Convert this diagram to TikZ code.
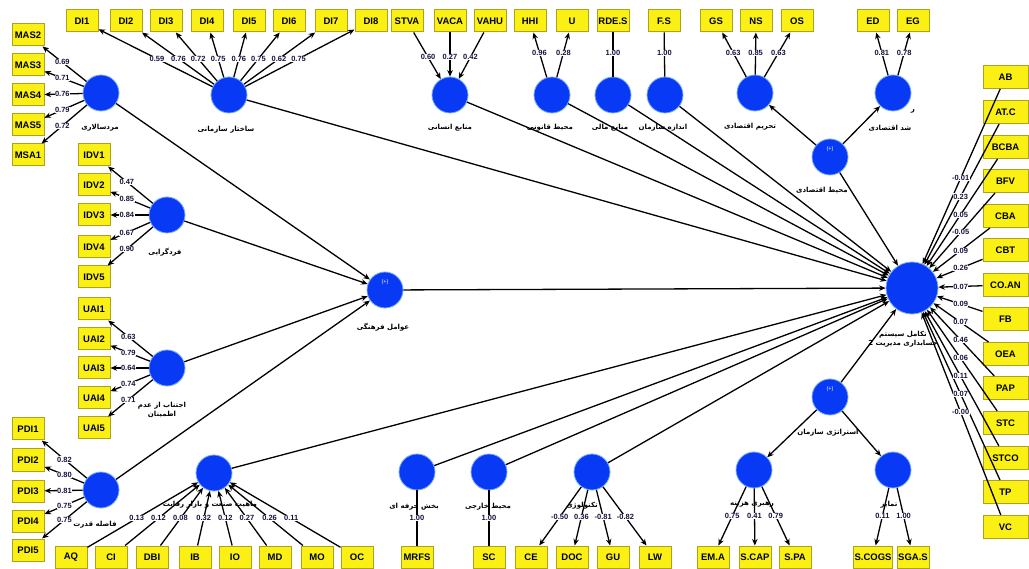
\documentclass[tikz,border=0pt]{standalone}
\usepackage{fontspec}
\setmainfont{Liberation Sans}
\newfontfamily\fafont[Script=Arabic]{DejaVu Sans}
\TeXXeTstate=1
\usetikzlibrary{arrows.meta,calc}
\definecolor{lvblue}{RGB}{8,58,245}
\definecolor{lvedge}{RGB}{120,170,255}
\definecolor{indfill}{RGB}{250,240,20}
\definecolor{indedge}{RGB}{175,160,30}
\definecolor{numcol}{RGB}{20,20,60}
% right-to-left Persian text
\newcommand\fatxt[1]{{\fafont\bfseries\beginR #1\endR}}
% loading / weight label placed on the line between two nodes
\newcommand\wgt[4]{\path (#1.center) -- (#2.center) node[lab,pos=#3] {#4};}
\tikzset{
  ind/.style={draw=indedge, fill=indfill, line width=1pt, minimum width=32pt,
    minimum height=22pt, inner sep=1pt, font=\bfseries\fontsize{9.5}{10}\selectfont},
  indw/.style={ind, minimum width=45pt, minimum height=23pt},
  lv/.style={circle, fill=lvblue, draw=lvedge, line width=0.8pt, minimum size=36pt, inner sep=0pt},
  lvbig/.style={lv, minimum size=52pt},
  arr/.style={-{Stealth[length=6.5pt,width=5.5pt]}, line width=1.3pt},
  ln/.style={line width=1.3pt},
  lab/.style={fill=white, inner sep=0.4pt, text=numcol, font=\bfseries\fontsize{7.5}{7.5}\selectfont},
  fa/.style={inner sep=0pt, align=center, font=\fontsize{7}{9.5}\selectfont},
  plus/.style={text=white, inner sep=0pt, font=\fontsize{5.5}{5.5}\selectfont}
}
\begin{document}
\begin{tikzpicture}[x=1pt,y=-1pt]
\useasboundingbox[fill=white] (0,0) rectangle (1029,569);

% ---------- latent variables ----------
\node[lv] (cmas)   at (101,93)  {};
\node[lv] (css)    at (229,95)  {};
\node[lv] (chr)    at (450,95)  {};
\node[lv] (clegal) at (552,95)  {};
\node[lv] (cfin)   at (613,95)  {};
\node[lv] (csize)  at (665,95)  {};
\node[lv] (csanc)  at (755,93)  {};
\node[lv] (cgrow)  at (893,93)  {};
\node[lv] (cecon)  at (830,157) {};
\node[lv] (cind)   at (167,215) {};
\node[lv] (ccult)  at (385,290) {};
\node[lv] (cua)    at (167,368) {};
\node[lv] (cpd)    at (101,490) {};
\node[lv] (cnat)   at (214,473) {};
\node[lv] (cprof)  at (417,472) {};
\node[lv] (cext)   at (489,472) {};
\node[lv] (ctech)  at (592,472) {};
\node[lv] (cstrat) at (830,397) {};
\node[lv] (ccost)  at (754,470) {};
\node[lv] (cdiff)  at (893,470) {};
\node[lvbig] (big) at (912,288) {};

\node[plus] (pcult)  at ($(ccult.center)+(0,-8)$)  {(+)};
\node[plus] (pecon)  at ($(cecon.center)+(0,-8)$)  {(+)};
\node[plus] (pstrat) at ($(cstrat.center)+(0,-8)$) {(+)};

% ---------- indicators ----------
\foreach \n/\x in {DI1/82,DI2/126,DI3/166,DI4/207,DI5/249,DI6/289,DI7/331,DI8/371,
  STVA/407,VACA/450,VAHU/490,HHI/530,U/572,GS/716,NS/756,OS/797,ED/873,EG/913}
  {\node[ind] (\n) at (\x,21) {\n};}
\node[ind] (RDES) at (613,21) {RDE.S};
\node[ind] (FS)   at (664,21) {F.S};

\foreach \n/\y in {MAS2/35,MAS3/65,MAS4/95,MAS5/125,MSA1/155,PDI1/429,PDI2/460,PDI3/491,PDI4/521,PDI5/550}
  {\node[ind] (\n) at (28,\y) {\n};}
\foreach \n/\y in {IDV1/155,IDV2/185,IDV3/215,IDV4/247,IDV5/277,UAI1/309,UAI2/339,UAI3/368,UAI4/398,UAI5/428}
  {\node[ind] (\n) at (94,\y) {\n};}

\foreach \n/\x in {AQ/71,CI/111,DBI/152,IB/195,IO/235,MD/275,MO/317,OC/357,MRFS/417,
  SC/489,CE/531,DOC/572,GU/613,LW/655}
  {\node[ind] (\n) at (\x,557) {\n};}
\node[ind] (EMA)   at (713,557) {EM.A};
\node[ind] (SCAP)  at (755,557) {S.CAP};
\node[ind] (SPA)   at (795,557) {S.PA};
\node[ind] (SCOGS) at (873,557) {S.COGS};
\node[ind] (SGAS)  at (913,557) {SGA.S};

\foreach \n/\t/\y in {AB/AB/77,ATC/AT.C/112,BCBA/BCBA/147,BFV/BFV/181,CBA/CBA/216,CBT/CBT/250,
  COAN/CO.AN/285,FB/FB/319,OEA/OEA/354,PAP/PAP/388,STC/STC/423,STCO/STCO/458,TP/TP/492,VC/VC/527}
  {\node[indw] (\n) at (1005.5,\y) {\t};}

% ---------- structural paths ----------
\foreach \c in {cmas,cind,cua,cpd} {\draw[arr] (\c) -- (ccult);}
\foreach \c in {css,chr,clegal,cfin,csize,cecon,ccult,cnat,cprof,cext,ctech,cstrat}
  {\draw[arr] (\c) -- (big);}
\draw[arr] (cecon) -- (csanc);
\draw[arr] (cecon) -- (cgrow);
\draw[arr] (cstrat) -- (ccost);
\draw[arr] (cstrat) -- (cdiff);

% ---------- measurement paths ----------
\foreach \b in {MAS2,MAS3,MAS4,MAS5,MSA1} {\draw[arr] (cmas) -- (\b);}
\foreach \b in {DI1,DI2,DI3,DI4,DI5,DI6,DI7,DI8} {\draw[arr] (css) -- (\b);}
\foreach \b in {STVA,VACA,VAHU} {\draw[arr] (\b) -- (chr);}
\foreach \b in {HHI,U} {\draw[arr] (clegal) -- (\b);}
\draw[ln] (cfin) -- (RDES);
\draw[ln] (csize) -- (FS);
\foreach \b in {GS,NS,OS} {\draw[arr] (csanc) -- (\b);}
\foreach \b in {ED,EG} {\draw[arr] (cgrow) -- (\b);}
\foreach \b in {IDV1,IDV2,IDV3,IDV4,IDV5} {\draw[arr] (cind) -- (\b);}
\foreach \b in {UAI1,UAI2,UAI3,UAI4,UAI5} {\draw[arr] (cua) -- (\b);}
\foreach \b in {PDI1,PDI2,PDI3,PDI4,PDI5} {\draw[arr] (cpd) -- (\b);}
\foreach \b in {AQ,CI,DBI,IB,IO,MD,MO,OC} {\draw[arr] (\b) -- (cnat);}
\draw[ln] (cprof) -- (MRFS);
\draw[ln] (cext) -- (SC);
\foreach \b in {CE,DOC,GU,LW} {\draw[arr] (ctech) -- (\b);}
\foreach \b in {EMA,SCAP,SPA} {\draw[arr] (ccost) -- (\b);}
\foreach \b in {SCOGS,SGAS} {\draw[arr] (cdiff) -- (\b);}
\foreach \b in {AB,ATC,BCBA,BFV,CBA,CBT,COAN,FB,OEA,PAP,STC,STCO,TP,VC} {\draw[arr] (\b) -- (big);}

% ---------- loadings and weights ----------
\foreach \b/\w in {MAS2/0.69,MAS3/0.71,MAS4/0.76,MAS5/0.79,MSA1/0.72} {\wgt{cmas}{\b}{0.53}{\w}}
\foreach \b/\w in {DI1/0.59,DI2/0.76,DI3/0.72,DI4/0.75,DI5/0.76,DI6/0.75,DI7/0.62,DI8/0.75} {\wgt{css}{\b}{0.49}{\w}}
\foreach \b/\w in {STVA/0.60,VACA/0.27,VAHU/0.42} {\wgt{\b}{chr}{0.49}{\w}}
\foreach \b/\w in {HHI/0.96,U/0.28} {\wgt{clegal}{\b}{0.57}{\w}}
\wgt{cfin}{RDES}{0.57}{1.00}
\wgt{csize}{FS}{0.57}{1.00}
\foreach \b/\w in {GS/0.63,NS/0.85,OS/0.63} {\wgt{csanc}{\b}{0.56}{\w}}
\foreach \b/\w in {ED/0.81,EG/0.78} {\wgt{cgrow}{\b}{0.56}{\w}}
\foreach \b/\w in {IDV1/0.47,IDV2/0.85,IDV3/0.84,IDV4/0.67,IDV5/0.90} {\wgt{cind}{\b}{0.55}{\w}}
\foreach \b/\w in {UAI1/0.63,UAI2/0.79,UAI3/0.64,UAI4/0.74,UAI5/0.71} {\wgt{cua}{\b}{0.53}{\w}}
\foreach \b/\w in {PDI1/0.82,PDI2/0.80,PDI3/0.81,PDI4/0.75,PDI5/0.75} {\wgt{cpd}{\b}{0.50}{\w}}
\foreach \b/\w in {AQ/0.13,CI/0.12,DBI/0.08,IB/0.32,IO/0.12,MD/0.27,MO/0.26,OC/0.11} {\wgt{\b}{cnat}{0.46}{\w}}
\wgt{cprof}{MRFS}{0.54}{1.00}
\wgt{cext}{SC}{0.54}{1.00}
\foreach \b/\w in {CE/-0.50,DOC/0.36,GU/-0.81,LW/-0.82} {\wgt{ctech}{\b}{0.53}{\w}}
\foreach \b/\w in {EMA/0.75,SCAP/0.41,SPA/0.79} {\wgt{ccost}{\b}{0.53}{\w}}
\foreach \b/\w in {SCOGS/0.11,SGAS/1.00} {\wgt{cdiff}{\b}{0.53}{\w}}
\foreach \b/\w in {AB/-0.01,ATC/0.23,BCBA/0.05,BFV/-0.05,CBA/0.09,CBT/0.26,COAN/0.07,FB/0.09,
  OEA/0.07,PAP/0.46,STC/0.06,STCO/0.11,TP/0.07,VC/-0.00} {\wgt{\b}{big}{0.48}{\w}}

% ---------- construct names ----------
\node[fa] (tmas)   at (100,128) {\fatxt{مردسالاری}};
\node[fa] (tss)    at (226,130) {\fatxt{ساختار سازمانی}};
\node[fa] (thr)    at (450,128) {\fatxt{منابع انسانی}};
\node[fa] (tlegal) at (550,128) {\fatxt{محیط قانونی}};
\node[fa] (tfin)   at (610,128) {\fatxt{منابع مالی}};
\node[fa] (tsize)  at (663,128) {\fatxt{اندازه سازمان}};
\node[fa] (tsanc)  at (750,127) {\fatxt{تحریم اقتصادی}};
\node[fa] (tgrowa) at (913,111) {\fatxt{ر}};
\node[fa] (tgrow)  at (890,128) {\fatxt{شد اقتصادی}};
\node[fa] (tecon)  at (822,190) {\fatxt{محیط اقتصادی}};
\node[fa] (tind)   at (165,252) {\fatxt{فردگرایی}};
\node[fa] (tcult)  at (383,327) {\fatxt{عوامل فرهنگی}};
\node[fa] (tua)    at (162,410) {\fatxt{اجتناب از عدم}\\\fatxt{اطمینان}};
\node[fa] (tpd)    at (95,525)  {\fatxt{فاصله قدرت}};
\node[fa] (tnat)   at (210,505) {\fatxt{ماهیت صنعت و بازار رقابت}};
\node[fa] (tprof)  at (414,507) {\fatxt{بخش حرفه ای}};
\node[fa] (text)   at (488,507) {\fatxt{محیط خارجی}};
\node[fa] (ttech)  at (582,506) {\fatxt{تکنولوژی}};
\node[fa] (tstrat) at (828,433) {\fatxt{استراتژی سازمان}};
\node[fa] (tcost)  at (752,505) {\fatxt{رهبری هزینه}};
\node[fa] (tdiff)  at (889,505) {\fatxt{تمایز}};
\node[fa] (tbig)   at (903,339) {\fatxt{تکامل سیستم}\\\fatxt{حسابداری مدیریت 2}};
\end{tikzpicture}
\end{document}
